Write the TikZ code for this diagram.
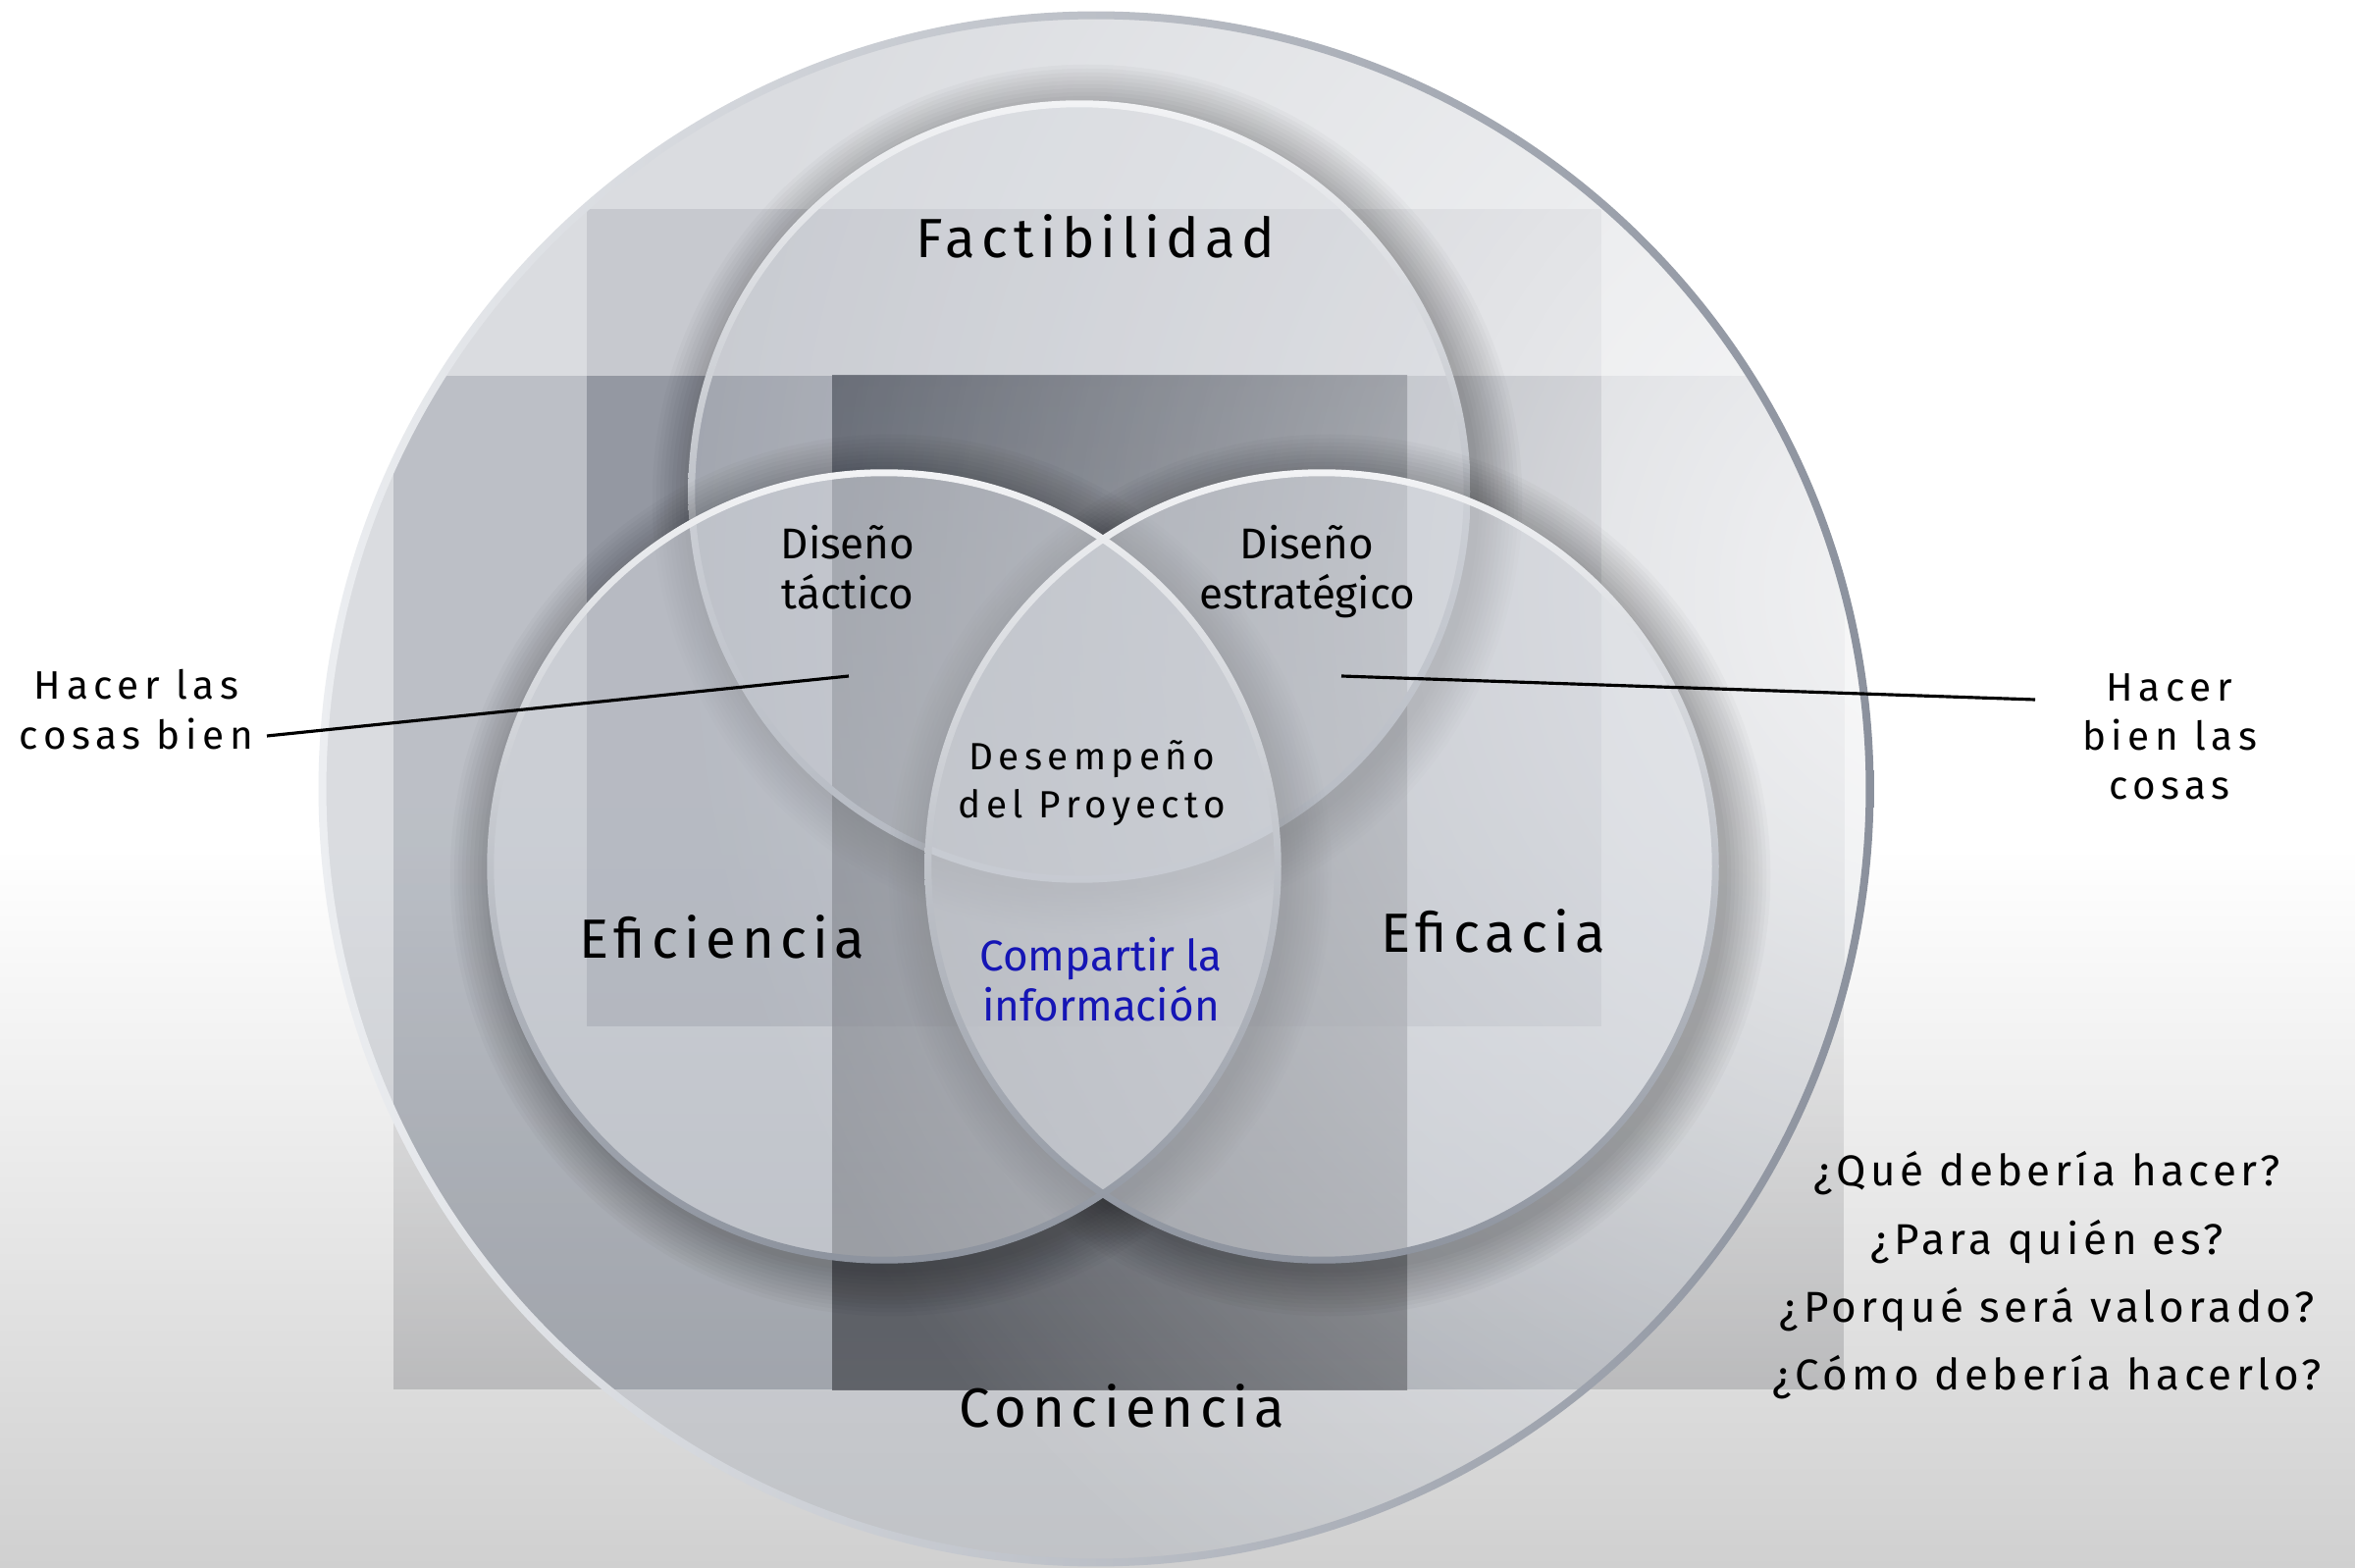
\documentclass[tikz,border=0pt]{standalone}
\usepackage{fontspec}
\setmainfont{Fira Sans}
\newfontfamily\trkA{Fira Sans}[LetterSpace=11]
\newfontfamily\trkB{Fira Sans}[LetterSpace=14]
\newfontfamily\trkC{Fira Sans}[LetterSpace=10]
\usetikzlibrary{fadings}
\definecolor{bgB}{HTML}{D0D0D0}
\definecolor{rtwoout}{HTML}{6E6F74}
\definecolor{obase}{HTML}{AEB3BC}
\definecolor{rtwoin}{HTML}{6F7785}
\definecolor{ronec}{HTML}{5B6373}
\definecolor{rotc}{HTML}{4A5160}
\definecolor{rthreetop}{HTML}{101623}
\definecolor{rthreebot}{HTML}{45474D}
\definecolor{circfill}{HTML}{DADDE3}
\definecolor{ffill}{HTML}{CFD3DA}
\definecolor{stTop}{HTML}{F2F3F5}
\definecolor{stBot}{HTML}{8D939E}
\definecolor{outL}{HTML}{ECEEF1}
\definecolor{outR}{HTML}{8B919D}
\definecolor{txtblue}{HTML}{1515B5}
\pgfdeclareverticalshading{bgshade}{100bp}{color(0bp)=(bgB); color(25bp)=(bgB); color(48bp)=(white); color(100bp)=(white)}
\tikzfading[name=rtwofade, top color=transparent!100, bottom color=transparent!0]
\tikzfading[name=hlrad, inner color=transparent!0, outer color=transparent!100]
% soft shadow outside a circle: #1 centre, #2 shifted centre, #3 radius (cm)
\newcommand\mysoftshadow[3]{%
  \begin{scope}[even odd rule]
    \clip (-10,-10) rectangle (2410,1610) (#1) circle[radius=#3cm];
    \foreach \k in {1,...,12}{%
      \fill[black,opacity=0.022] (#2) circle[radius={#3cm+\k*0.04cm}];}
  \end{scope}}
\tikzset{
  big/.style={font={\trkA\fontsize{16pt}{19pt}\selectfont}, inner sep=0pt},
  midl/.style={font={\fontsize{12.5pt}{14.5pt}\selectfont}, inner sep=0pt, align=center},
  trkl/.style={font={\trkB\fontsize{11pt}{13.9pt}\selectfont}, inner sep=0pt, align=center},
  sidel/.style={font={\trkB\fontsize{11.5pt}{14.3pt}\selectfont}, inner sep=0pt, align=center},
  quesl/.style={font={\trkC\fontsize{12.5pt}{19.7pt}\selectfont}, inner sep=0pt, align=center},
  connector/.style={draw=black, line width=0.9pt},
}
\begin{document}
\begin{tikzpicture}[x=0.01cm, y=-0.01cm]
\useasboundingbox (0,0) rectangle (2400,1598);
% background
\shade[shading=bgshade] (0,0) rectangle (2400,1598);
\coordinate (O) at (1117,804);
\coordinate (F) at (1100,501);
\coordinate (L) at (901,883);
\coordinate (R) at (1347,883);
\coordinate (Fs) at (1108,509);
\coordinate (Ls) at (908,892);
\coordinate (Rs) at (1355,892);
% wide rectangle, faded, visible outside the circle at the bottom
\fill[rtwoout, opacity=0.3, path fading=rtwofade] (401,820) rectangle (1880,1416);
% outer circle base
\fill[obase, opacity=0.45] (O) circle[radius=7.88cm];
\begin{scope}
  \clip (O) circle[radius=7.88cm];
  \fill[rtwoin, opacity=0.28] (401,383) rectangle (1880,1416);
  \fill[ronec, opacity=0.15] (598,213) rectangle (1632,1046);
  \fill[rotc, opacity=0.25] (598,383) rectangle (1632,1046);
  \shade[top color=rthreetop, bottom color=rthreebot, opacity=0.7] (848,383) rectangle (1434,1416);
  \fill[white, opacity=0.85, path fading=hlrad] (2000,600) circle[radius=13cm];
\end{scope}
% outer ring stroke
\shade[even odd rule, left color=outL, right color=outR] (O) circle[radius=7.92cm] (O) circle[radius=7.84cm];
% Factibilidad circle
\mysoftshadow{F}{Fs}{3.95}
\fill[ffill, opacity=0.25] (F) circle[radius=3.95cm];
\shade[even odd rule, top color=stTop, bottom color=stBot] (F) circle[radius=3.985cm] (F) circle[radius=3.915cm];
% small circles
\mysoftshadow{L}{Ls}{4.01}
\mysoftshadow{R}{Rs}{4.01}
\fill[circfill, opacity=0.5] (L) circle[radius=4.01cm];
\fill[circfill, opacity=0.5] (R) circle[radius=4.01cm];
\shade[even odd rule, top color=stTop, bottom color=stBot] (L) circle[radius=4.045cm] (L) circle[radius=3.975cm];
\shade[even odd rule, top color=stTop, bottom color=stBot] (R) circle[radius=4.045cm] (R) circle[radius=3.975cm];
% labels
\node[big, anchor=base] (fact) at (1116,263) {Factibilidad};
\node[big, anchor=base] (efi) at (736,976) {Eficiencia};
\node[big, anchor=base] (efa) at (1522,971) {Eficacia};
\node[big, anchor=base] (conc) at (1143,1454) {Conciencia};
\node[midl] (tac) at (864,578) {Diseño\\táctico};
\node[midl] (est) at (1332,583) {Diseño\\estratégico};
\node[trkl] (des) at (1113,798) {Desempeño\\del Proyecto};
\node[midl, text=txtblue] (comp) at (1122,998) {Compartir la\\información};
\node[sidel] (hl) at (139,723) {Hacer las\\cosas bien};
\node[sidel] (hr) at (2211,751) {Hacer\\bien las\\cosas};
\node[quesl] (qs) at (2086,1300) {¿Qué debería hacer?\\¿Para quién es?\\¿Porqué será valorado?\\¿Cómo debería hacerlo?};
% connectors
\coordinate (tacpt) at (865,689);
\coordinate (estpt) at (1367,689);
\coordinate (hlend) at (272,750);
\coordinate (hrend) at (2074,713);
\draw[connector] (hlend) -- (tacpt);
\draw[connector] (estpt) -- (hrend);
\end{tikzpicture}
\end{document}
